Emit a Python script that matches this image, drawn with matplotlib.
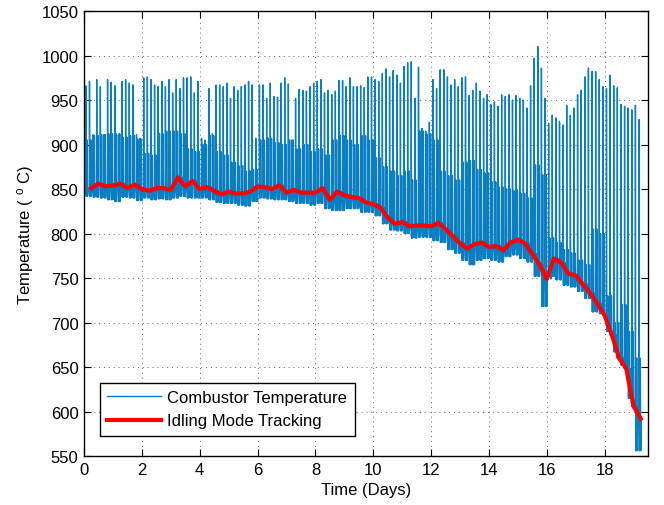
import numpy as np
import matplotlib.pyplot as plt

plt.rcParams['font.family'] = ['Liberation Sans', 'DejaVu Sans']
plt.rcParams['mathtext.fontset'] = 'custom'
plt.rcParams['mathtext.rm'] = 'Liberation Sans'
plt.rcParams['mathtext.default'] = 'regular'

# idling mode tracking, read every quarter day (0.25 .. 19.25 days)
idle_days = np.arange(1, 78) * 0.25
idle_temp = [
    851, 856, 853, 854,  856, 851, 855, 850,  848, 851, 851, 849,
    863, 853, 859, 850,  852, 848, 844, 847,  845, 845, 847, 853,
    852, 850, 854, 846,  849, 846, 846, 846,  851, 838, 847, 843,
    841, 840, 835, 833,  829, 818, 811, 813,  808, 809, 809, 808,
    812, 805, 797, 789,  783, 788, 790, 785,  786, 781, 790, 793,
    789, 777, 765, 749,  772, 767, 755, 753,  743, 733, 721, 708,
    686, 660, 648, 606,  592,
]

# lower envelope of the combustor temperature per quarter-day bin
trough_temp = [
    842, 841, 840, 838,  836, 841, 840, 837,  840, 838, 839, 838,
    840, 842, 840, 840,  840, 838, 835, 834,  834, 832, 831, 836,
    840, 839, 838, 838,  836, 834, 834, 832,  834, 828, 826, 826,
    828, 828, 824, 824,  820, 811, 804, 803,  800, 795, 796, 796,
    792, 790, 782, 778,  770, 765, 770, 772,  770, 768, 774, 776,
    772, 768, 752, 718,  752, 748, 742, 740,  735, 727, 712, 710,
    690, 667, 652, 615,  556,
]

# top of the dense secondary bursts per quarter-day bin
burst_temp = [
    905, 910, 911, 912,  912, 908, 910, 906,  890, 888, 912, 915,
    915, 912, 895, 892,  900, 910, 892, 888,  880, 876, 870, 872,
    905, 907, 902, 900,  905, 895, 900, 892,  895, 888, 905, 910,
    905, 900, 910, 905,  885, 875, 870, 865,  870, 860, 915, 912,
    905, 870, 865, 860,  880, 882, 872, 868,  858, 852, 850, 848,
    845, 840, 877, 866,  795, 790, 782, 778,  770, 765, 805, 800,
    730, 700, 720, 690,  660,
]

# firing cycle peaks, one every 3 hours
spike_temp = [
    966, 971, 911, 973, 965, 911, 973, 970,
    966, 911, 971, 973, 969, 967, 911, 907,
    975, 976, 973, 967, 965, 971, 965, 973,
    958, 973, 963, 975, 975, 976, 958, 971,
    907, 905, 963, 912, 967, 967, 965, 969,
    952, 965, 961, 965, 967, 971, 967, 907,
    967, 967, 952, 969, 954, 953, 969, 975,
    968, 905, 952, 962, 961, 960, 965, 969,
    971, 973, 958, 961, 956, 960, 972, 972,
    965, 975, 965, 965, 966, 964, 976, 976,
    973, 971, 980, 985, 976, 983, 978, 969,
    988, 992, 993, 952, 987, 918, 915, 925,
    973, 963, 984, 984, 976, 967, 973, 965,
    975, 976, 955, 961, 969, 960, 952, 956,
    945, 948, 943, 956, 954, 956, 950, 955,
    952, 950, 941, 966, 997, 1010, 986, 952,
    924, 933, 930, 926, 922, 944, 933, 941,
    956, 961, 976, 986, 982, 982, 973, 965,
    963, 978, 966, 964, 945, 943, 941, 939,
    944, 928,
]
spike_days = 0.06 + 0.125 * np.arange(len(spike_temp))
blue_start = 900
blue_end = 585

# build the combustor trace cycle by cycle
t_blue = [0.0]
y_blue = [blue_start]
for t0, peak in zip(spike_days, spike_temp):
    b = min(int(t0 / 0.25), len(trough_temp) - 1)
    i = int(np.clip(round(t0 / 0.25) - 1, 0, len(idle_temp) - 1))
    base, low, burst = idle_temp[i], trough_temp[b], burst_temp[b]
    t_blue += [t0, t0 + 0.005, t0 + 0.014, t0 + 0.026, t0 + 0.038,
               t0 + 0.05, t0 + 0.064, t0 + 0.09]
    y_blue += [base, peak, low, burst, low, burst, low, base]
t_blue.append(19.25)
y_blue.append(blue_end)

fig = plt.figure(figsize=(6.64, 5.06), dpi=100)
ax = fig.add_axes([0.1265, 0.0968, 0.8494, 0.8794])

ax.plot(t_blue, y_blue, color='#0a7ec2', lw=1.0, label='Combustor Temperature')
ax.plot(idle_days, idle_temp, color='#ff0000', lw=3, label='Idling Mode Tracking')

ax.set_xlim(0, 19.5)
ax.set_ylim(550, 1050)
ax.set_xticks(np.arange(0, 19, 2))
ax.set_yticks(np.arange(550, 1051, 50))
ax.tick_params(direction='in', top=True, right=True, labelsize=12, length=5, pad=4)
ax.grid(True, color='0.4', linestyle=(0, (1, 4)), lw=0.7)
for s in ax.spines.values():
    s.set_linewidth(1.0)

ax.set_xlabel('Time (Days)', fontsize=12, labelpad=4)
ax.set_ylabel('Temperature ( $^o$ C)', fontsize=12, labelpad=4)

leg = ax.legend(loc='lower left', bbox_to_anchor=(0.028, 0.045), fontsize=12,
                frameon=True, fancybox=False, edgecolor='black', framealpha=1,
                handlelength=3.2, handletextpad=0.4, borderaxespad=0,
                borderpad=0.45, labelspacing=0.5)
leg.get_frame().set_linewidth(1.0)

fig.savefig('out.png', dpi=100)
